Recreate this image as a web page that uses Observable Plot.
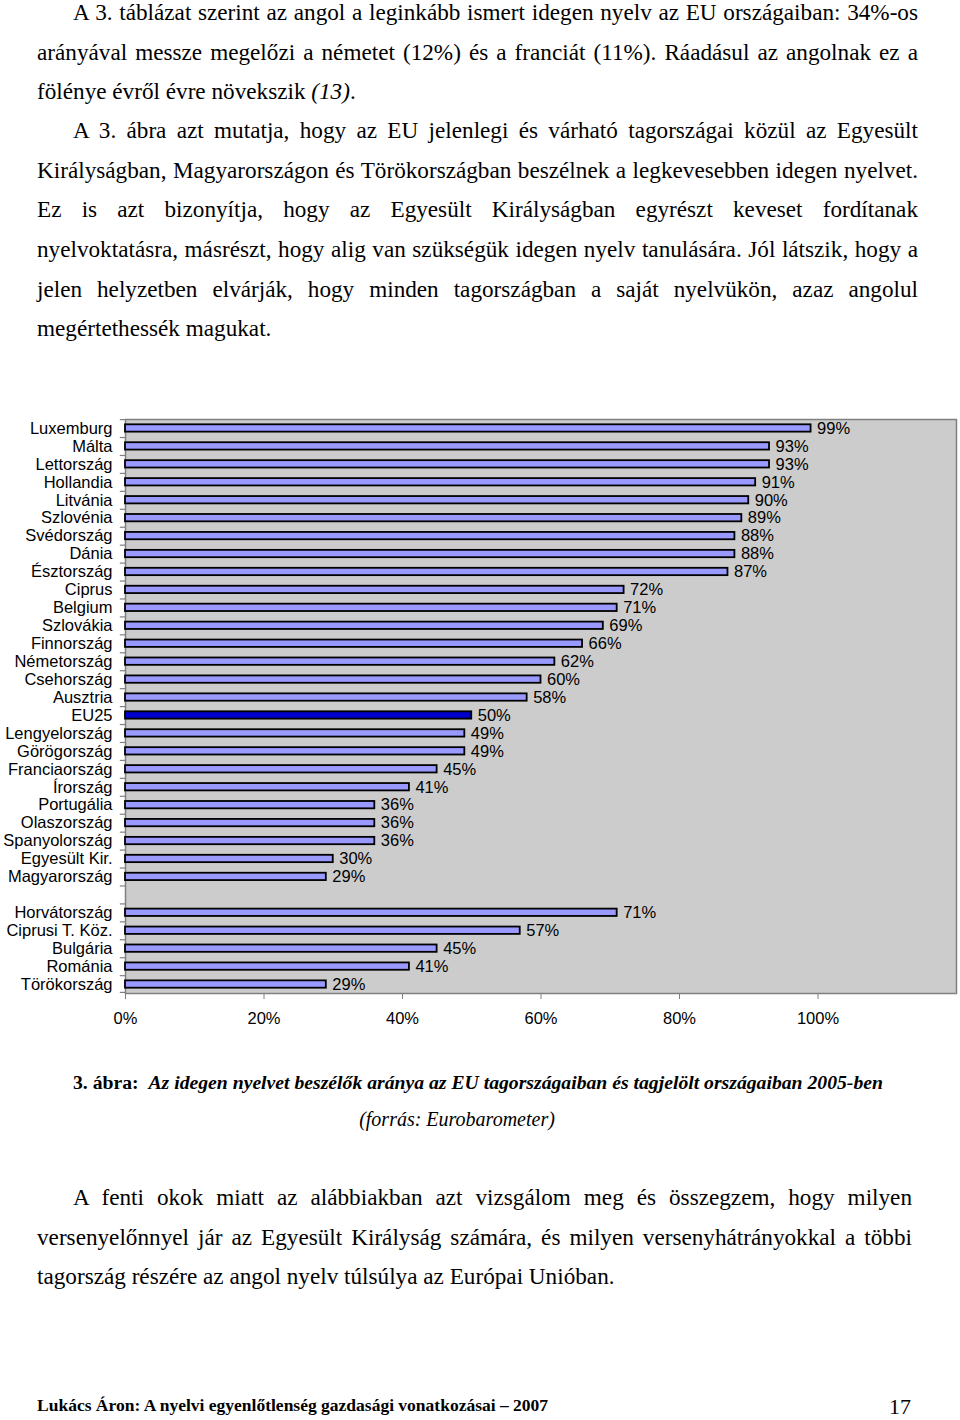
<!DOCTYPE html>
<html>
<head>
<meta charset="utf-8">
<script src="https://cdn.jsdelivr.net/npm/d3@7"></script>
<script src="https://cdn.jsdelivr.net/npm/@observablehq/plot@0.6"></script>
<style>
  html, body { margin: 0; padding: 0; background: #fff; }
  #page { position: relative; width: 960px; height: 1420px; overflow: hidden; font-family: "Liberation Serif", "Times New Roman", serif; color: #000; }
  .ln { position: absolute; height: 40px; line-height: 40px; font-size: 23.2px; white-space: nowrap; }
  .j { text-align: justify; text-align-last: justify; }
  #chart { position: absolute; left: 0; top: 400px; }
</style>
</head>
<body>
<div id="page">
  <div class="ln j" style="left:73px;width:845px;top:-8px">A 3. táblázat szerint az angol a leginkább ismert idegen nyelv az EU országaiban: 34%-os</div>
  <div class="ln j" style="left:37px;width:881px;top:32px">arányával messze megelőzi a németet (12%) és a franciát (11%). Ráadásul az angolnak ez a</div>
  <div class="ln" style="left:37px;top:71px">fölénye évről évre növekszik <i>(13)</i>.</div>

  <div class="ln j" style="left:73px;width:845px;top:110px">A 3. ábra azt mutatja, hogy az EU jelenlegi és várható tagországai közül az Egyesült</div>
  <div class="ln j" style="left:37px;width:881px;top:150px">Királyságban, Magyarországon és Törökországban beszélnek a legkevesebben idegen nyelvet.</div>
  <div class="ln j" style="left:37px;width:881px;top:189px">Ez is azt bizonyítja, hogy az Egyesült Királyságban egyrészt keveset fordítanak</div>
  <div class="ln j" style="left:37px;width:881px;top:229px">nyelvoktatásra, másrészt, hogy alig van szükségük idegen nyelv tanulására. Jól látszik, hogy a</div>
  <div class="ln j" style="left:37px;width:881px;top:269px">jelen helyzetben elvárják, hogy minden tagországban a saját nyelvükön, azaz angolul</div>
  <div class="ln" style="left:37px;top:308px">megértethessék magukat.</div>

  <div id="chart"></div>

  <div class="ln" style="left:73px;top:1062px;font-size:19.7px;font-weight:bold"><span>3. ábra:</span>&nbsp; <i>Az idegen nyelvet beszélők aránya az EU tagországaiban és tagjelölt országaiban 2005-ben</i></div>
  <div class="ln" style="left:0;width:914px;text-align:center;top:1099px;font-size:20px;font-style:italic">(forrás: Eurobarometer)</div>

  <div class="ln j" style="left:73px;width:839px;top:1177px">A fenti okok miatt az alábbiakban azt vizsgálom meg és összegzem, hogy milyen</div>
  <div class="ln j" style="left:37px;width:875px;top:1217px">versenyelőnnyel jár az Egyesült Királyság számára, és milyen versenyhátrányokkal a többi</div>
  <div class="ln" style="left:37px;top:1256px">tagország részére az angol nyelv túlsúlya az Európai Unióban.</div>

  <div class="ln" style="left:37px;top:1385px;font-size:17.5px;font-weight:bold">Lukács Áron: A nyelvi egyenlőtlenség gazdasági vonatkozásai – 2007</div>
  <div class="ln" style="left:889px;top:1395px;font-size:22px;height:24px;line-height:24px">17</div>
</div>
<script>
// EU member states (+ EU25 average), share speaking a foreign language (%)
const countries = ["Luxemburg","Málta","Lettország","Hollandia","Litvánia","Szlovénia","Svédország","Dánia","Észtország","Ciprus","Belgium","Szlovákia","Finnország","Németország","Csehország","Ausztria","EU25","Lengyelország","Görögország","Franciaország","Írország","Portugália","Olaszország","Spanyolország","Egyesült Kir.","Magyarország"];
const values = [99,93,93,91,90,89,88,88,87,72,71,69,66,62,60,58,50,49,49,45,41,36,36,36,30,29];
// Candidate countries
const candidates = ["Horvátország","Ciprusi T. Köz.","Bulgária","Románia","Törökország"];
const candidateValues = [71,57,45,41,29];
// x axis ticks
const xTicks = [0,20,40,60,80,100];

const gap = " ";
const domain = [...countries, gap, ...candidates];
const data = countries.map((c, i) => ({name: c, value: values[i], eu: c === "EU25"}))
  .concat(candidates.map((c, i) => ({name: c, value: candidateValues[i], eu: false})));

const H = 633, mT = 19, mB = 40;
const step = (H - mT - mB) / domain.length;

const chart = Plot.plot({
  width: 960,
  height: H,
  marginLeft: 125,
  marginRight: 4,
  marginTop: mT,
  marginBottom: mB,
  x: {domain: [0, 120], axis: null, label: null},
  y: {domain, axis: null, padding: 0, round: false, label: null},
  style: {fontFamily: "'Liberation Sans', Arial, sans-serif", fontSize: "16.5px", color: "#000", background: "transparent"},
  marks: [
    Plot.frame({fill: "#cccccc", stroke: "#808080", strokeWidth: 1.5}),
    Plot.barX(domain, {x1: -0.75, x2: 0, y: d => d, fill: "#808080", insetBottom: step - 1.2}),
    Plot.barX([domain[domain.length - 1]], {x1: -0.75, x2: 0, y: d => d, fill: "#808080", insetTop: step - 1.2}),
    Plot.barX(data, {x: "value", y: "name", fill: d => d.eu ? "#0000cc" : "#9999ff", stroke: "#000", strokeWidth: 1.8, insetTop: 5.3, insetBottom: 5.3}),
    Plot.text(data, {x: "value", y: "name", text: d => d.value + "%", textAnchor: "start", dx: 6, fill: "#000"}),
    Plot.axisY({tickSize: 0, tickPadding: 13, fill: "#000", label: null}),
    Plot.axisX({ticks: xTicks, tickFormat: d => d + "%", tickSize: 6, tickPadding: 13, stroke: "#808080", fill: "#000", label: null})
  ]
});
document.getElementById("chart").appendChild(chart);

// keep justified single lines within their box
document.querySelectorAll(".ln.j").forEach(el => {
  if (el.scrollWidth > el.clientWidth + 1) {
    el.style.transformOrigin = "left center";
    el.style.transform = `scaleX(${el.clientWidth / el.scrollWidth})`;
    el.style.textAlignLast = "left";
  }
});
</script>
</body>
</html>
